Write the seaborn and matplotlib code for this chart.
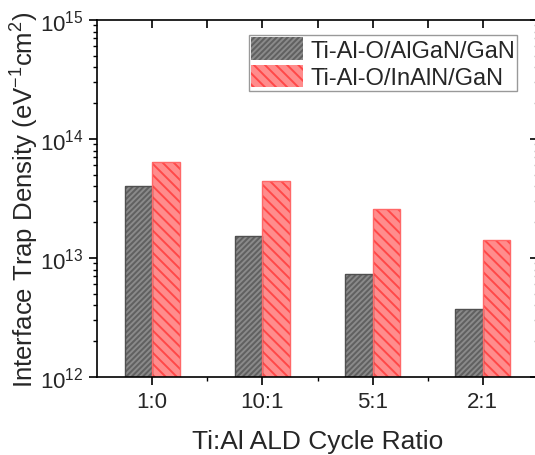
import matplotlib
matplotlib.use("Agg")
import matplotlib.pyplot as plt
import seaborn as sns
import pandas as pd
import numpy as np
from matplotlib.ticker import LogLocator, FixedLocator, NullFormatter

categories = ["1:0", "10:1", "5:1", "2:1"]
series_names = ["Ti-Al-O/AlGaN/GaN", "Ti-Al-O/InAlN/GaN"]
algan_values = [4.0e13, 1.52e13, 7.4e12, 3.75e12]
inaln_values = [6.4e13, 4.4e13, 2.6e13, 1.42e13]

sns.set_theme(style="white")
plt.rcParams['font.family'] = ['Liberation Sans', 'DejaVu Sans']
plt.rcParams['mathtext.fontset'] = 'custom'
plt.rcParams['mathtext.rm'] = 'Liberation Sans'
plt.rcParams['mathtext.it'] = 'Liberation Sans'
plt.rcParams['hatch.linewidth'] = 1.4

df = pd.DataFrame({
    "ratio": categories * 2,
    "series": [series_names[0]] * 4 + [series_names[1]] * 4,
    "value": algan_values + inaln_values,
})

fig = plt.figure(figsize=(5.35, 4.56), dpi=100)
ax = fig.add_axes([97/535, 78/456, 441/535, 357/456])

fills = ["#606060", "#ff8c8c"]
sns.barplot(data=df, x="ratio", y="value", hue="series", order=categories,
            hue_order=series_names, palette=fills, width=0.5, ax=ax,
            saturation=1, errorbar=None)
ax.set_yscale("log")
ax.set_ylim(1e12, 1e15)
ax.set_xlim(-0.5, 3.5)

hatch_cols = ["#8a8a8a", "#ff4848"]
hatches = ["//////", "\\\\\\"]
edges = ["#505050", "#ff6868"]
for i, cont in enumerate(ax.containers):
    for p in cont:
        p.set_hatch(hatches[i])
        p.set_edgecolor(hatch_cols[i])
        p.set_linewidth(0)
        ax.add_patch(plt.Rectangle(p.get_xy(), p.get_width(), p.get_height(),
                                   fill=False, edgecolor=edges[i], linewidth=1.0, zorder=p.get_zorder()+0.1))

handles = []
for i in range(2):
    h = matplotlib.patches.Patch(facecolor=fills[i], edgecolor=hatch_cols[i], hatch=hatches[i], linewidth=0)
    handles.append(h)
leg = ax.legend(handles, series_names, loc="upper right", bbox_to_anchor=(0.953, 0.958),
                fontsize=17, frameon=True, fancybox=False, edgecolor="#808080",
                handlelength=2.2, handleheight=1.1, borderpad=0.1, labelspacing=0.12,
                handletextpad=0.3, borderaxespad=0)
leg.get_frame().set_linewidth(1.0)

ax.set_xlabel("Ti:Al ALD Cycle Ratio", fontsize=19, labelpad=12)
ax.set_ylabel("Interface Trap Density (eV$^{-1}$cm$^{2}$)", fontsize=18.5)
ax.yaxis.set_label_coords(-0.128, 0.5)

for s in ax.spines.values():
    s.set_visible(True)
    s.set_color("black")
    s.set_linewidth(1.2)
ax.spines["right"].set_color("#c0c0c0")

ax.yaxis.set_major_locator(LogLocator(base=10, numticks=10))
ax.yaxis.set_minor_locator(LogLocator(base=10, subs=np.arange(2, 10), numticks=20))
ax.yaxis.set_minor_formatter(NullFormatter())
ax.xaxis.set_minor_locator(FixedLocator([0.5, 1.5, 2.5]))
ax.tick_params(axis="both", which="major", length=6, width=1.2, color="black",
               direction="out", bottom=True, left=True)
ax.tick_params(axis="y", which="major", labelsize=16)
ax.tick_params(axis="x", which="major", labelsize=16, pad=4)
ax.tick_params(axis="both", which="minor", length=3, width=1.0, color="black",
               direction="out", bottom=True, left=True)

top = ax.secondary_xaxis("top")
top.set_xticks(range(4))
top.xaxis.set_minor_locator(FixedLocator([0.5, 1.5, 2.5]))
top.tick_params(which="both", direction="in", length=6, width=1.2, labeltop=False, color="black")
top.spines["top"].set_visible(False)
right = ax.secondary_yaxis("right")
right.set_yscale("log")
right.yaxis.set_major_locator(LogLocator(base=10, numticks=10))
right.yaxis.set_minor_locator(LogLocator(base=10, subs=np.arange(2, 10), numticks=20))
right.tick_params(which="major", direction="in", length=6, width=1.2, labelright=False, color="black")
right.tick_params(which="minor", direction="in", length=3, width=1.0, labelright=False, color="#b0b0b0")
right.spines["right"].set_visible(False)

fig.savefig("out.png", dpi=100)
